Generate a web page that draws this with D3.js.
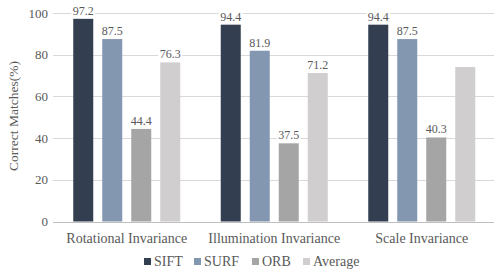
<!DOCTYPE html>
<html>
<head>
<meta charset="utf-8">
<script src="https://cdn.jsdelivr.net/npm/d3@7"></script>
<style>
  body { margin: 0; background: #fff; }
  text { font-family: "Liberation Serif", "Times New Roman", serif; fill: #595959; }
</style>
</head>
<body>
<div id="chart"></div>
<script>
// data
var categories = ["Rotational Invariance", "Illumination Invariance", "Scale Invariance"];
var series = ["SIFT", "SURF", "ORB", "Average"];
var colors = ["#333f50", "#8497b0", "#a5a5a5", "#d0cece"];
var siftValues = [97.2, 94.4, 94.4];
var surfValues = [87.5, 81.9, 87.5];
var orbValues = [44.4, 37.5, 40.3];
var avgValues = [76.3, 71.2, 74.1];
// last average bar has no label in the original
var showLabel = [[true, true, true], [true, true, true], [true, true, true], [true, true, false]];
var yTicks = [0, 20, 40, 60, 80, 100];

var svgWidth = 494;
var svgHeight = 273;

var svg = d3.select("#chart")
  .append("svg")
  .attr("width", svgWidth)
  .attr("height", svgHeight);

var allValues = [siftValues, surfValues, orbValues, avgValues];

// scales
var x0 = d3.scaleBand()
  .domain(categories)
  .range([53, 495.5]);

var x1 = d3.scaleBand()
  .domain(series)
  .range([-53.5, 53.5])
  .paddingInner(9 / 29);

var y = d3.scaleLinear()
  .domain([0, 100])
  .range([221.5, 13]);

// gridlines
svg.append("g")
  .selectAll("line")
  .data(yTicks)
  .enter()
  .append("line")
  .attr("x1", 53)
  .attr("x2", svgWidth)
  .attr("y1", d => Math.round(y(d)) + 0.5)
  .attr("y2", d => Math.round(y(d)) + 0.5)
  .attr("stroke", d => d === 0 ? "#bfbfbf" : "#d9d9d9")
  .attr("stroke-width", 1);

// y axis labels
var yAxis = svg.append("g")
  .attr("transform", "translate(53,0)")
  .call(d3.axisLeft(y).tickValues(yTicks).tickSize(0).tickPadding(5));
yAxis.select(".domain").remove();
yAxis.attr("font-family", null);
yAxis.selectAll("text")
  .style("font-family", "Liberation Serif")
  .style("font-size", "13px")
  .attr("fill", "#595959");

// bars
var barData = [];
series.forEach(function(s, si) {
  categories.forEach(function(c, ci) {
    barData.push({ series: s, cat: c, value: allValues[si][ci], color: colors[si], label: showLabel[si][ci] });
  });
});

svg.append("g")
  .selectAll("rect")
  .data(barData)
  .enter()
  .append("rect")
  .attr("x", d => x0(d.cat) + x0.bandwidth() / 2 + x1(d.series))
  .attr("y", d => y(d.value))
  .attr("width", x1.bandwidth())
  .attr("height", d => y(0) - y(d.value))
  .attr("fill", d => d.color);

// value labels with white background
var labels = svg.append("g")
  .selectAll("g")
  .data(barData.filter(d => d.label))
  .enter()
  .append("g")
  .attr("transform", d => `translate(${x0(d.cat) + x0.bandwidth() / 2 + x1(d.series) + x1.bandwidth() / 2}, ${y(d.value) - 4})`);

labels.append("rect")
  .attr("x", -12)
  .attr("y", -10)
  .attr("width", 24)
  .attr("height", 12)
  .attr("fill", "#fff");

labels.append("text")
  .attr("text-anchor", "middle")
  .style("font-size", "12px")
  .text(d => d.value.toFixed(1));

// category labels
svg.append("g")
  .selectAll("text")
  .data(categories)
  .enter()
  .append("text")
  .attr("x", d => x0(d) + x0.bandwidth() / 2)
  .attr("y", 243)
  .attr("text-anchor", "middle")
  .style("font-size", "14px")
  .text(d => d);

// y axis title
svg.append("text")
  .attr("transform", "translate(18,116) rotate(-90)")
  .attr("text-anchor", "middle")
  .style("font-size", "13.5px")
  .text("Correct Matches(%)");

// legend
var legendX = [144, 194, 252, 303];
var legend = svg.append("g")
  .selectAll("g")
  .data(series)
  .enter()
  .append("g")
  .attr("transform", (d, i) => `translate(${legendX[i]}, 258)`);

legend.append("rect")
  .attr("width", 7)
  .attr("height", 7)
  .attr("fill", (d, i) => colors[i]);

legend.append("text")
  .attr("x", 10)
  .attr("y", 8)
  .style("font-size", "14px")
  .text(d => d);
</script>
</body>
</html>
